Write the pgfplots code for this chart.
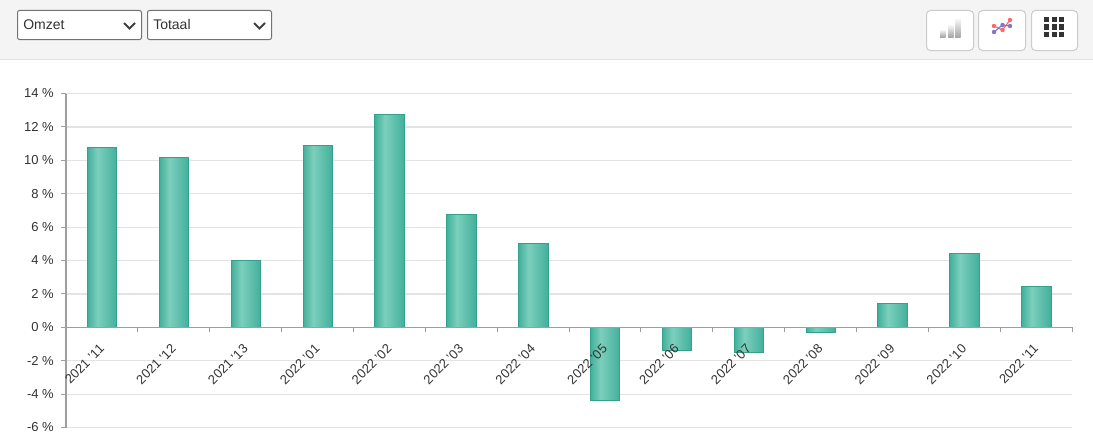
\documentclass[border=0pt]{standalone}
\usepackage{pgfplots}
\pgfplotsset{compat=1.18}
\usepackage{fontspec}
\setmainfont{Liberation Sans}
\definecolor{txt}{HTML}{333333}
\definecolor{barE}{HTML}{42B09B}
\definecolor{barL}{HTML}{7CCFBD}
\definecolor{barB}{HTML}{35A08C}
\pgfdeclarehorizontalshading{barshade}{100bp}{
  color(0bp)=(barE); color(25bp)=(barE); color(42bp)=(barL); color(75bp)=(barE); color(100bp)=(barE)}
\newcommand\onebar[2]{\addplot[ybar,bar shift=0.2pt,bar width=22pt,draw=barB,line width=0.75pt,shading=barshade] coordinates {(#1,#2)};}
\pgfplotsset{common/.style={
  at={(49.5pt,12.375pt)},anchor=south west,
  scale only axis,width=754.5pt,height=250.5pt,
  xmin=0,xmax=14,ymin=-6,ymax=14,clip=false,
  axis line style={black!38,line width=0.9pt},
  tick align=outside,
}}
\begin{document}
\begin{tikzpicture}
\useasboundingbox (0,0) rectangle (819.75pt,333pt);
\fill[white] (0,0) rectangle (819.75pt,333pt);
\begin{scope}[x=0.75pt,y=-0.75pt,shift={(0pt,333pt)}]
\fill[black!4.5] (0,0) rectangle (1093,59);
\draw[black!12,line width=0.75pt] (0,59.5) -- (1093,59.5);
\foreach \a/\b/\t in {17.5/141.5/Omzet,147.5/271.5/Totaal}{
  \draw[fill=white,draw=black!55,line width=0.75pt,rounded corners=1.5pt] (\a,10.5) rectangle (\b,39.5);
  \node[anchor=base west,inner sep=0pt,text=txt,font=\fontsize{10.5pt}{12pt}\selectfont] at (\a+5.5,30) {\t};
  \draw[black!75,line width=1.4pt] (\b-17.5,23) -- (\b-12,28.5) -- (\b-6.5,23);
}
\foreach \a/\b in {926.5/973.5,978.5/1025.5,1031.5/1077.5}
  \draw[fill=white,draw=black!20,line width=0.75pt,rounded corners=3pt] (\a,10.5) rectangle (\b,50.5);
\foreach \a/\t in {940/29,948/24,955/17}
  \shade[top color=white,bottom color=black!35] (\a,\t) rectangle (\a+5.5,37);
\draw[red!60!white,line width=0.9pt] (994,26) -- (1002.5,30) -- (1010,20);
\draw[blue!50!gray!70,line width=0.9pt] (994,32) -- (1002.5,25) -- (1010,26);
\foreach \p/\q in {994/26,1002.5/30,1010/20} \fill[red!60!white] (\p,\q) circle (2.2);
\foreach \p/\q in {994/32,1002.5/25,1010/26} \fill[blue!50!gray!70] (\p,\q) circle (2.2);
\foreach \p in {1044,1051.5,1059}\foreach \q in {17,24.5,32}
  \fill[black!80] (\p,\q) rectangle (\p+5,\q+5);
\end{scope}
\begin{axis}[common,
  axis x line=none,axis y line*=left,
  ytick={-6,-4,...,14},
  yticklabels={-6 \%,-4 \%,-2 \%,0 \%,2 \%,4 \%,6 \%,8 \%,10 \%,12 \%,14 \%},
  major y tick style={black!38,line width=0.75pt},
  major tick length=3.75pt,
  yticklabel style={text=txt,font=\fontsize{9.75pt}{11pt}\selectfont,inner sep=0pt,xshift=-5.25pt},
  ymajorgrids,
  grid style={black!11,line width=0.9pt},
]
\onebar{0.5}{10.75}
\onebar{1.5}{10.15}
\onebar{2.5}{4.0}
\onebar{3.5}{10.9}
\onebar{4.5}{12.75}
\onebar{5.5}{6.75}
\onebar{6.5}{5.0}
\onebar{7.5}{-4.4}
\onebar{8.5}{-1.4}
\onebar{9.5}{-1.5}
\onebar{10.5}{-0.3}
\onebar{11.5}{1.4}
\onebar{12.5}{4.4}
\onebar{13.5}{2.45}
\end{axis}
\begin{axis}[common,
  axis x line*=middle,axis y line=none,
  xtick={0.5,1.5,...,13.5},
  minor xtick={1,...,14},
  xticklabels={2021 '11,2021 '12,2021 '13,2022 '01,2022 '02,2022 '03,2022 '04,2022 '05,2022 '06,2022 '07,2022 '08,2022 '09,2022 '10,2022 '11},
  major x tick style={draw=none},
  minor x tick style={black!38,line width=0.75pt},
  minor tick length=3.75pt,
  xticklabel style={rotate=45,anchor=north east,inner sep=0pt,text=txt,font=\fontsize{9.75pt}{11pt}\selectfont,xshift=-7.1pt,yshift=-3.5pt},
]
\addplot[draw=none] coordinates {(0,0)};
\end{axis}
\end{tikzpicture}
\end{document}
